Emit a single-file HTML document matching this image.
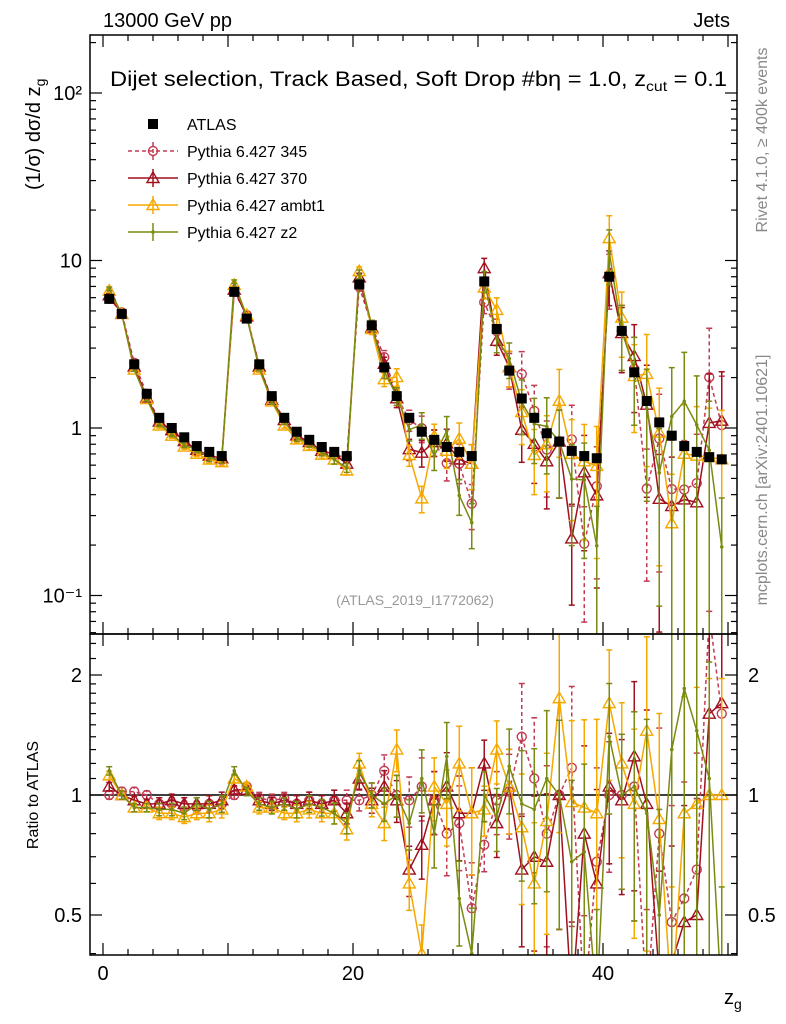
<!DOCTYPE html>
<html><head><meta charset="utf-8"><style>
html,body{margin:0;background:#fff;overflow:hidden;width:786px;height:1024px}
svg{display:block}
svg text{font-family:"Liberation Sans",sans-serif}
</style></head><body>
<svg id="c" width="786" height="1024" xmlns="http://www.w3.org/2000/svg">
<g id="g"></g>
<text x="103" y="27" font-size="20">13000 GeV pp</text>
<text x="730" y="27" font-size="20" text-anchor="end">Jets</text>
<text x="110" y="86" font-size="21" textLength="617" lengthAdjust="spacingAndGlyphs">Dijet selection, Track Based, Soft Drop #bη = 1.0, z<tspan font-size="14" dy="5">cut</tspan><tspan dy="-5"> = 0.1</tspan></text>
<text x="415" y="605" font-size="14" fill="#999" text-anchor="middle">(ATLAS_2019_I1772062)</text>
<text transform="translate(767,140) rotate(-90)" font-size="16" fill="#888" text-anchor="middle">Rivet 4.1.0, ≥ 400k events</text>
<text transform="translate(767,480) rotate(-90)" font-size="16" fill="#888" text-anchor="middle">mcplots.cern.ch [arXiv:2401.10621]</text>
<text transform="translate(40,190) rotate(-90)" font-size="20" text-anchor="start">(1/σ) dσ/d z<tspan font-size="14" dy="5">g</tspan></text>
<text transform="translate(38,795) rotate(-90)" font-size="16" text-anchor="middle">Ratio to ATLAS</text>
<text x="724" y="1004" font-size="20">z<tspan font-size="14" dy="5">g</tspan></text>
</svg>
<script>
const atlas=[5.9,4.8,2.4,1.6,1.15,1.0,0.88,0.78,0.72,0.68, 6.5,4.5,2.4,1.55,1.15,0.95,0.85,0.77,0.72,0.68, 7.2,4.1,2.3,1.55,1.15,0.95,0.85,0.77,0.72,0.68, 7.5,3.9,2.2,1.5,1.15,0.93,0.83,0.73,0.68,0.66, 8.0,3.8,2.15,1.45,1.08,0.9,0.78,0.72,0.67,0.65];
const r345=[1.0,1.02,1.02,1.0,0.95,0.95,0.93,0.93,0.95,0.95, 1.0,1.05,0.98,0.97,0.98,0.95,0.97,0.95,0.97,0.97, 0.97,1.0,1.15,1.0,0.97,1.05,0.97,0.8,0.85,0.52, 0.75,0.97,1.02,1.4,1.1,0.8,1.0,1.17,0.3,0.68, 1.0,1.0,1.05,0.3,0.8,0.48,0.55,0.65,3.0,1.6];
const r370=[1.05,1.0,0.97,0.95,0.95,0.97,0.95,0.95,0.95,0.97, 1.03,1.03,0.97,0.95,0.97,0.95,0.97,0.95,0.97,0.9, 1.1,0.97,1.05,0.97,0.65,0.75,0.97,1.05,0.9,0.9, 1.2,0.85,1.05,0.65,0.7,0.68,1.0,0.3,0.8,0.6, 1.05,0.97,1.25,0.95,0.35,0.38,0.48,0.5,1.6,1.7];
const rambt1=[1.12,1.0,0.93,0.93,0.9,0.9,0.88,0.9,0.9,0.92, 1.1,1.05,0.93,0.93,0.9,0.9,0.92,0.9,0.9,0.82, 1.2,0.95,0.85,1.3,0.6,0.4,1.05,0.95,1.2,0.9, 0.92,1.3,1.05,0.83,0.6,0.86,1.75,0.96,0.93,0.9, 1.7,1.2,0.95,1.45,0.87,0.3,0.9,0.95,1.0,1.0];
const rz2=[1.15,1.0,0.93,0.93,0.92,0.92,0.9,0.95,0.92,0.95, 1.15,1.02,0.95,0.93,0.95,0.92,0.95,0.93,0.9,0.85, 1.15,1.0,0.95,1.0,0.85,1.1,0.8,1.25,0.55,0.4, 1.0,0.88,1.18,0.95,0.92,1.1,1.0,0.68,0.72,0.3, 1.4,1.0,1.05,0.9,0.5,1.3,1.85,1.45,1.1,0.3];
const errRel=[0.02,0.02,0.02,0.02,0.03,0.03,0.03,0.03,0.04,0.04, 0.02,0.02,0.03,0.03,0.03,0.04,0.04,0.04,0.05,0.05, 0.05,0.06,0.08,0.1,0.12,0.15,0.15,0.18,0.2,0.25, 0.12,0.15,0.2,0.3,0.35,0.4,0.45,0.5,0.55,0.6, 0.3,0.35,0.45,0.6,0.7,0.8,0.8,0.8,0.8,0.8];
const xTicks=[0,20,40];
const yTicks=[[100,"10²"],[10,"10"],[1,"1"],[0.1,"10⁻¹"]];
const rTicks=[2,1,0.5];

const NS="http://www.w3.org/2000/svg",G=document.getElementById('g');
const L=90,R=737,T=35,MB=634,RB=955;
const X=v=>103+12.5*v;
const Y=v=>Math.min(680,Math.max(T-20,93-167.5*(Math.log10(v)-2)));
const RY=v=>Math.min(1010,Math.max(MB-20,795-398.6*Math.log10(v)));
function el(t,a,p){const e=document.createElementNS(NS,t);for(const k in a)e.setAttribute(k,a[k]);(p||G).appendChild(e);return e;}
const clipM=el('clipPath',{id:'cm'});el('rect',{x:L,y:T,width:R-L,height:MB-T},clipM);
const clipR=el('clipPath',{id:'cr'});el('rect',{x:L,y:MB,width:R-L,height:RB-MB},clipR);
const gm=el('g',{'clip-path':'url(#cm)'});


const gr=el('g',{'clip-path':'url(#cr)'});


el('line',{x1:L,x2:R,y1:RY(1),y2:RY(1),stroke:'#000','stroke-width':1.5},gr);

const series=[
 {n:'pythia-345',r:r345,c:'#c23b53',m:'circle',d:'4,3'},
 {n:'pythia-370',r:r370,c:'#a0101e',m:'tri',d:''},
 {n:'pythia-ambt1',r:rambt1,c:'#f5a800',m:'tri',d:''},
 {n:'pythia-z2',r:rz2,c:'#7b8a10',m:'dot',d:''}];
function marker(p,m,x,y,c,s){
 if(m==='circle')return el('circle',{cx:x,cy:y,r:s||4.5,fill:'none',stroke:c,'stroke-width':1.4},p);
 if(m==='tri'){const h=s||6;return el('polygon',{points:`${x},${y-h} ${x-h},${y+h*0.75} ${x+h},${y+h*0.75}`,fill:'none',stroke:c,'stroke-width':1.4},p);}
 if(m==='dot')return el('circle',{cx:x,cy:y,r:1.8,fill:c},p);
 return el('rect',{x:x-5,y:y-5,width:10,height:10,fill:c},p);
}
series.forEach(s=>{
 [[gm,false],[gr,true]].forEach(([par,isR])=>{
  const g=el('g',{},par);
  
  
  let pts=[];
  s.r.forEach((r,i)=>{
   const v=isR?r:r*atlas[i];const f=isR?RY:Y;
   const x=X(i+0.5),y=f(v),e=errRel[i];
   const lo=Math.max(v*(1-e*1.2),1e-3),hi=v*(1+e*1.2);
   el('line',{x1:x,x2:x,y1:f(lo),y2:f(hi),stroke:s.c,'stroke-width':1.5,'stroke-dasharray':s.d},g);
   el('line',{x1:x-3,x2:x+3,y1:f(hi),y2:f(hi),stroke:s.c,'stroke-width':1.5},g);
   el('line',{x1:x-3,x2:x+3,y1:f(lo),y2:f(lo),stroke:s.c,'stroke-width':1.5},g);
   pts.push(x+','+y);
  });
  el('polyline',{points:pts.join(' '),fill:'none',stroke:s.c,'stroke-width':1.5,'stroke-dasharray':s.d},g);
  s.r.forEach((r,i)=>{const v=isR?r:r*atlas[i];marker(g,s.m,X(i+0.5),(isR?RY:Y)(v),s.c);});
 });
});
const ga=el('g',{},gm);


atlas.forEach((v,i)=>marker(ga,'sq',X(i+0.5),Y(v),'#000'));

el('rect',{x:L,y:T,width:R-L,height:MB-T,fill:'none',stroke:'#000','stroke-width':1.5});
el('rect',{x:L,y:MB,width:R-L,height:RB-MB,fill:'none',stroke:'#000','stroke-width':1.5});
for(let v=-1;v<=50;v++){
 const x=X(v);if(x<L||x>R)continue;
 const len=v%10===0?12:(v%2===0?6:0);if(!len)continue;
 [[T,1],[MB,-1],[MB,1],[RB,-1]].forEach(([y,d])=>el('line',{x1:x,x2:x,y1:y,y2:y+d*len,stroke:'#000','stroke-width':1.2}));
}
xTicks.forEach(v=>{const t=el('text',{x:X(v),y:980,'font-size':20,'text-anchor':'middle'});t.textContent=v;

});
for(let d=-2;d<=2;d++)for(let k=1;k<10;k++){
 const v=k*Math.pow(10,d),y=93-167.5*(Math.log10(v)-2);if(y<T||y>MB)continue;
 const len=k===1?12:6;
 el('line',{x1:L,x2:L+len,y1:y,y2:y,stroke:'#000','stroke-width':1.2});
 el('line',{x1:R,x2:R-len,y1:y,y2:y,stroke:'#000','stroke-width':1.2});
}
yTicks.forEach(([v,s])=>{const t=el('text',{x:82,y:Y(v)+7,'font-size':20,'text-anchor':'end'});t.textContent=s;

});
[0.4,0.5,0.6,0.7,0.8,0.9,1,1.1,1.2,1.3,1.4,1.5,1.6,1.7,1.8,1.9,2,2.2,2.4].forEach(v=>{
 const y=RY(v),len=(v===0.5||v===1||v===2)?12:6;
 el('line',{x1:L,x2:L+len,y1:y,y2:y,stroke:'#000','stroke-width':1.2});
 el('line',{x1:R,x2:R-len,y1:y,y2:y,stroke:'#000','stroke-width':1.2});
});
rTicks.forEach(v=>{[[82,'end'],[748,'start']].forEach(([x,a])=>{const t=el('text',{x:x,y:RY(v)+7,'font-size':20,'text-anchor':a});t.textContent=v;

});});
const leg=el('g',{});


const names=['ATLAS','Pythia 6.427 345','Pythia 6.427 370','Pythia 6.427 ambt1','Pythia 6.427 z2'];
names.forEach((n,i)=>{
 const y=124+i*27,e=el('g',{},leg);
 
 
 if(i===0)marker(e,'sq',153,y,'#000');
 else{const s=series[i-1];el('line',{x1:128,x2:178,y1:y,y2:y,stroke:s.c,'stroke-width':1.5,'stroke-dasharray':s.d},e);
  el('line',{x1:153,x2:153,y1:y-9,y2:y+9,stroke:s.c,'stroke-width':1.5,'stroke-dasharray':s.d},e);
  marker(e,s.m,153,y,s.c);}
 const t=el('text',{x:187,y:y+6,'font-size':16},e);t.textContent=n;
});
</script>
</body></html>
